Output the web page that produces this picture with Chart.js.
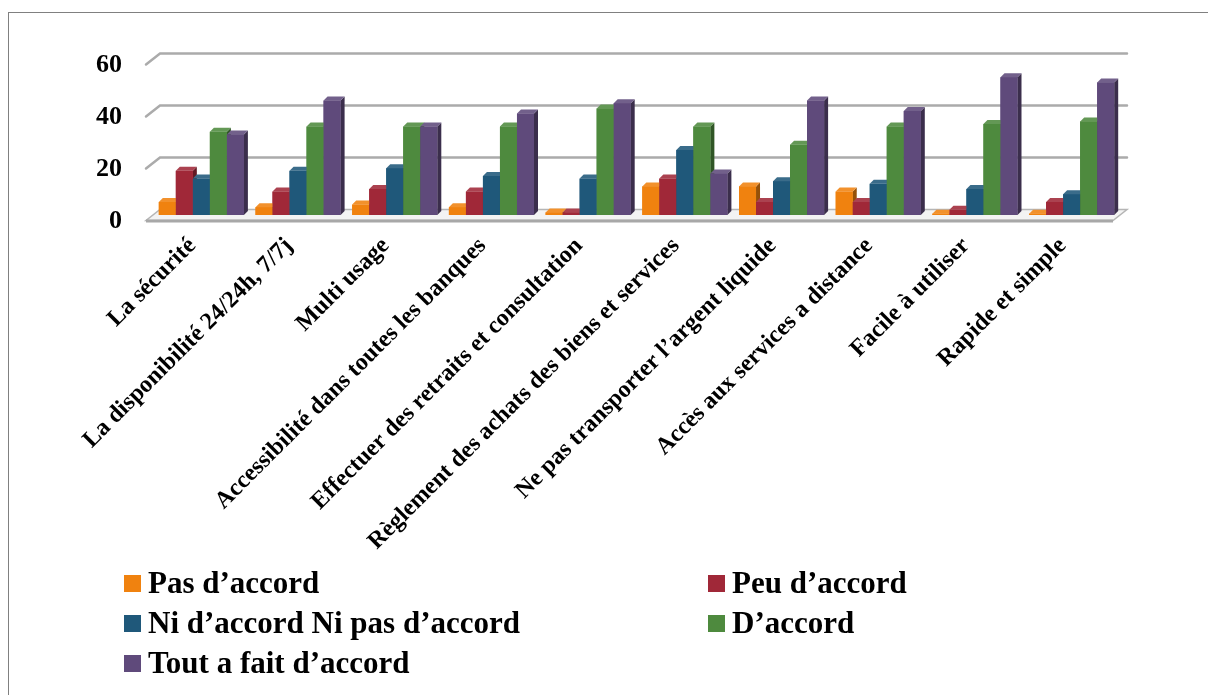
<!DOCTYPE html>
<html lang="fr">
<head>
<meta charset="utf-8">
<title>Avantages perçus de la carte bancaire</title>
<script src="https://cdn.jsdelivr.net/npm/chart.js@4/dist/chart.umd.min.js"></script>
<style>
    html, body {
        margin: 0;
        padding: 0;
        background: #ffffff;
        overflow: hidden;
    }
    #wrap {
        position: relative;
        width: 1208px;
        height: 695px;
        overflow: hidden;
    }
    #frame {
        position: absolute;
        left: 8px;
        top: 12px;
        width: 1400px;
        height: 900px;
        border: 1.5px solid #808080;
    }
    #chart {
        position: absolute;
        left: 0;
        top: 0;
    }
    #legend {
        position: absolute;
        left: 124px;
        top: 563px;
        display: grid;
        grid-template-columns: 584px auto;
        grid-auto-rows: 40px;
        font-family: 'Liberation Serif', 'Times New Roman', serif;
        font-weight: bold;
        font-size: 31px;
        color: #000;
    }
    #legend .item {
        display: flex;
        align-items: center;
        white-space: nowrap;
    }
    #legend .box {
        width: 17px;
        height: 17px;
        margin-right: 7px;
        flex: none;
    }
</style>
</head>
<body>
<div id="wrap">
    <div id="frame"></div>
    <canvas id="chart" width="1208" height="695"></canvas>
    <div id="legend"></div>
</div>
<script>
// Categories (avantages)
const categories = [
    'La sécurité',
    'La disponibilité 24/24h, 7/7j',
    'Multi usage',
    'Accessibilité dans toutes les banques',
    'Effectuer des retraits et consultation',
    'Règlement des achats des biens et services',
    'Ne pas transporter l’argent liquide',
    'Accès aux services a distance',
    'Facile à utiliser',
    'Rapide et simple'
];

// Series (%)
const pasDaccord = [5, 3, 4, 3, 1, 11, 11, 9, 0.5, 0.5];
const peuDaccord = [17, 9, 10, 9, 1, 14, 5, 5, 2, 5];
const niNiPasDaccord = [14, 17, 18, 15, 14, 25, 13, 12, 10, 8];
const daccord = [32, 34, 34, 34, 41, 34, 27, 34, 35, 36];
const toutAFaitDaccord = [31, 44, 34, 39, 43, 16, 44, 40, 53, 51];

const seriesLabels = ['Pas d’accord', 'Peu d’accord', 'Ni d’accord Ni pas d’accord', 'D’accord', 'Tout a fait d’accord'];
const seriesColors = ['#F0820F', '#A02838', '#1F587A', '#4E8A3E', '#5F4A7B'];

const yTicks = [0, 20, 40, 60];

// Shade a hex colour by a factor (<1 darker, >1 lighter)
function shade(hex, f) {
    const n = parseInt(hex.slice(1), 16);
    const ch = [(n >> 16) & 255, (n >> 8) & 255, n & 255].map(c => {
        const v = f < 1 ? c * f : c + (255 - c) * (f - 1);
        return Math.round(Math.max(0, Math.min(255, v)));
    });
    return `rgb(${ch[0]}, ${ch[1]}, ${ch[2]})`;
}

// Half depth of the 3D box (floor / back wall) and depth of each bar
const boxDepth = { x: 7, y: 5.5 };
const barDepth = { x: 4, y: 4 };

const scene3d = {
    id: 'scene3d',
    beforeDatasetsDraw(chart) {
        const { ctx, chartArea } = chart;
        const yScale = chart.scales.y;
        const left = chartArea.left, right = chartArea.right;
        const y0 = yScale.getPixelForValue(0);
        ctx.save();

        // back wall gridlines with their slanted side-wall stub
        ctx.strokeStyle = '#ABABAB';
        ctx.lineWidth = 2.5;
        ctx.lineCap = 'round';
        yTicks.forEach(v => {
            if (v === 0) return;
            const y = yScale.getPixelForValue(v);
            ctx.beginPath();
            ctx.moveTo(left - boxDepth.x, y + boxDepth.y);
            ctx.lineTo(left + boxDepth.x, y - boxDepth.y);
            ctx.lineTo(right + boxDepth.x, y - boxDepth.y);
            ctx.stroke();
        });

        // floor slab
        ctx.beginPath();
        ctx.moveTo(left - boxDepth.x, y0 + boxDepth.y);
        ctx.lineTo(right - boxDepth.x, y0 + boxDepth.y);
        ctx.lineTo(right + boxDepth.x, y0 - boxDepth.y);
        ctx.lineTo(left + boxDepth.x, y0 - boxDepth.y);
        ctx.closePath();
        ctx.fillStyle = '#F3F3F3';
        ctx.fill();
        ctx.lineWidth = 1.5;
        ctx.strokeStyle = '#B5B5B5';
        ctx.stroke();
        // front edge of the slab
        ctx.fillStyle = '#A8A8A8';
        ctx.fillRect(left - boxDepth.x, y0 + boxDepth.y - 1, right - left, 3);
        ctx.restore();
    },
    afterDatasetsDraw(chart) {
        const { ctx } = chart;
        const metas = chart.data.datasets.map((ds, i) => chart.getDatasetMeta(i));
        ctx.save();
        categories.forEach((c, idx) => {
            metas.forEach((meta, d) => {
                const el = meta.data[idx];
                if (!el) return;
                const { x, y, base, width } = el.getProps(['x', 'y', 'base', 'width'], true);
                const l = x - width / 2, r = x + width / 2;
                const col = seriesColors[d];
                // side face
                ctx.beginPath();
                ctx.moveTo(r, y);
                ctx.lineTo(r + barDepth.x, y - barDepth.y);
                ctx.lineTo(r + barDepth.x, base - barDepth.y);
                ctx.lineTo(r, base);
                ctx.closePath();
                ctx.fillStyle = shade(col, 0.62);
                ctx.fill();
                // top face
                ctx.beginPath();
                ctx.moveTo(l, y);
                ctx.lineTo(r, y);
                ctx.lineTo(r + barDepth.x, y - barDepth.y);
                ctx.lineTo(l + barDepth.x, y - barDepth.y);
                ctx.closePath();
                ctx.fillStyle = shade(col, 1.12);
                ctx.fill();
                // front face
                ctx.fillStyle = col;
                ctx.fillRect(l, y, width, base - y);
            });
        });
        ctx.restore();
    }
};

const serif = 'Liberation Serif, Times New Roman, serif';

const chart = new Chart(document.getElementById('chart'), {
    type: 'bar',
    data: {
        labels: categories,
        datasets: [pasDaccord, peuDaccord, niNiPasDaccord, daccord, toutAFaitDaccord].map((values, i) => ({
            label: seriesLabels[i],
            data: values,
            backgroundColor: seriesColors[i],
            borderWidth: 0,
            categoryPercentage: 0.88,
            barPercentage: 1.0
        }))
    },
    options: {
        responsive: false,
        animation: false,
        layout: {
            padding: { left: 0, top: 59, right: 88, bottom: 0 }
        },
        plugins: {
            legend: { display: false },
            tooltip: { enabled: false }
        },
        scales: {
            x: {
                grid: { display: false },
                border: { display: false },
                afterFit: (scale) => { scale.height = 480; },
                ticks: {
                    autoSkip: false,
                    minRotation: 45,
                    maxRotation: 45,
                    padding: 9,
                    labelOffset: -9,
                    color: '#000',
                    font: { family: serif, weight: 'bold', size: 24 }
                }
            },
            y: {
                min: 0,
                max: 60,
                afterFit: (scale) => { scale.width = 153; },
                afterBuildTicks: (scale) => { scale.ticks = yTicks.map(v => ({ value: v })); },
                grid: { display: false },
                border: { display: false },
                ticks: {
                    padding: 23,
                    labelOffset: 6,
                    color: '#000',
                    font: { family: serif, weight: 'bold', size: 26 }
                }
            }
        }
    },
    plugins: [scene3d]
});

// Two-column legend built from the chart's datasets
const legendEl = document.getElementById('legend');
chart.data.datasets.forEach(ds => {
    const item = document.createElement('div');
    item.className = 'item';
    const box = document.createElement('span');
    box.className = 'box';
    box.style.background = ds.backgroundColor;
    const text = document.createElement('span');
    text.textContent = ds.label;
    item.appendChild(box);
    item.appendChild(text);
    legendEl.appendChild(item);
});
</script>
</body>
</html>
